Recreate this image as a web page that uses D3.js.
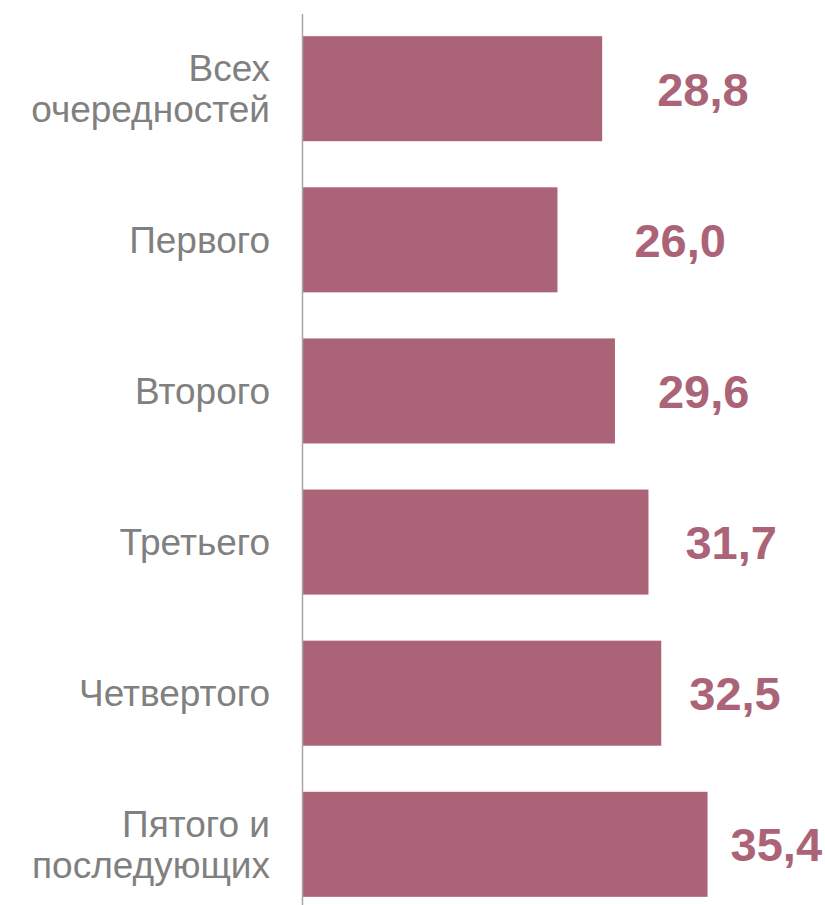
<!DOCTYPE html>
<html lang="ru">
<head>
<meta charset="UTF-8">
<title>Bar chart</title>
<script src="https://d3js.org/d3.v7.min.js"></script>
<style>
    body { margin: 0; background: #fff; }
    svg { display: block; font-family: "Liberation Sans", Arial, sans-serif; }
    .cat { fill: #808080; font-size: 37px; }
    .val { fill: #ab6378; font-size: 47px; font-weight: bold; }
</style>
</head>
<body>
<div id="chart"></div>
<script>
// данные
var categories = [["Всех", "очередностей"], ["Первого"], ["Второго"], ["Третьего"], ["Четвертого"], ["Пятого и", "последующих"]];
var values = [28.8, 26.0, 29.6, 31.7, 32.5, 35.4];
// отступ подписи значения от конца столбца (как в исходнике)
var labelGap = [55, 77, 43, 37, 28, 23];

var width = 825, height = 905;

var svg = d3.select("#chart").append("svg")
    .attr("width", width)
    .attr("height", height);

var ids = d3.range(values.length);

var x = d3.scaleLinear().domain([10, 40]).range([302, 781]);
var y = d3.scaleBand().domain(ids)
    .range([13.5, 919.5])
    .paddingInner(0.305)
    .paddingOuter(0.15);

svg.append("g").selectAll("rect")
    .data(ids)
    .join("rect")
    .attr("x", x(10))
    .attr("y", i => y(i))
    .attr("width", i => x(values[i]) - x(10))
    .attr("height", y.bandwidth())
    .attr("fill", "#ab6377");

// вертикальная ось
svg.append("line")
    .attr("x1", 302.5).attr("x2", 302.5)
    .attr("y1", 14).attr("y2", height)
    .attr("stroke", "#a6a6a6")
    .attr("stroke-width", 1.5);

// подписи категорий
var cat = svg.append("g").selectAll("text")
    .data(ids)
    .join("text")
    .attr("class", "cat")
    .attr("text-anchor", "end")
    .attr("x", 270)
    .attr("y", i => y(i) + y.bandwidth() / 2)
    .attr("dy", i => categories[i].length > 1 ? "-0.2em" : "0.35em");

cat.each(function(i) {
    var t = d3.select(this);
    categories[i].forEach(function(line, k) {
        t.append("tspan")
            .attr("x", 270)
            .attr("dy", k === 0 ? null : "1.1em")
            .text(line);
    });
});

// значения
var fmt = d3.format(".1f");
svg.append("g").selectAll("text")
    .data(ids)
    .join("text")
    .attr("class", "val")
    .attr("x", i => x(values[i]) + labelGap[i])
    .attr("y", i => y(i) + y.bandwidth() / 2)
    .attr("dy", "0.36em")
    .text(i => fmt(values[i]).replace(".", ","));
</script>
</body>
</html>
